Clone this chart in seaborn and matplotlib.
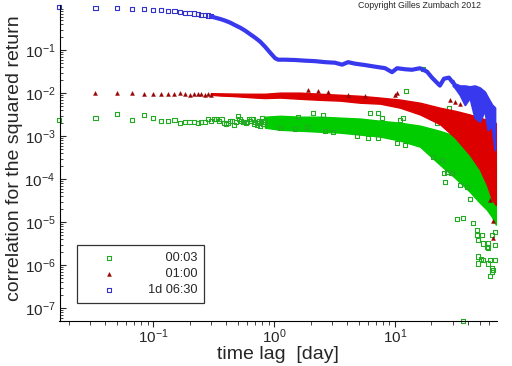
import numpy as np
import matplotlib
matplotlib.use("Agg")
import matplotlib.pyplot as plt
import seaborn as sns
from matplotlib.ticker import LogLocator, NullFormatter

# time lags in days (first points, one step = 1/60 day)
early_lags = [0.0167, 0.0333, 0.0500, 0.0667, 0.0833, 0.1000, 0.1167, 0.1333, 0.1500, 0.1667,
              0.1833, 0.2000, 0.2167, 0.2333, 0.2500, 0.2667, 0.2833, 0.3000, 0.3167, 0.3333,
              0.3500, 0.3667, 0.3833, 0.4000, 0.4167, 0.4333, 0.4500, 0.4667, 0.4833, 0.5000,
              0.5167, 0.5333, 0.5500, 0.5667, 0.5833, 0.6000, 0.6167, 0.6333, 0.6500, 0.6667,
              0.6833, 0.7000, 0.7167, 0.7333, 0.7500, 0.7667, 0.7833, 0.8000, 0.8167, 0.8333]

# 00:03 (green)
green_early = [0.0024, 0.00265, 0.00328, 0.00238, 0.00311, 0.00265, 0.00225, 0.00225, 0.00238, 0.00203,
               0.00214, 0.00214, 0.00214, 0.00203, 0.00214, 0.00214, 0.00251, 0.00225, 0.00251, 0.0025,
               0.00225, 0.0025, 0.00203, 0.00193, 0.00203, 0.00225, 0.00225, 0.00185, 0.0021, 0.0030,
               0.00251, 0.0023, 0.00214, 0.00214, 0.0020, 0.00214, 0.00251, 0.0023, 0.0025, 0.00251,
               0.0019, 0.0021, 0.0018, 0.0020, 0.0023, 0.0017, 0.0021, 0.0026, 0.0019, 0.0022]
green_band_lag = [0.84, 1.12, 1.64, 2.40, 3.51, 5.13, 7.51, 11.0, 16.1, 23.5, 31.3, 41.5, 50.2, 57.5, 63.2, 68.2]
green_hi = [0.00284, 0.00298, 0.00284, 0.00284, 0.00270, 0.00257, 0.00229, 0.00206, 0.00176, 0.00133,
            0.00102, 0.00067, 0.00048, 0.00037, 0.00028, 0.00022]
green_lo = [0.00158, 0.00141, 0.00134, 0.00127, 0.00121, 0.00109, 0.00098, 0.00079, 0.00057, 0.000217,
            0.000108, 0.0000512, 0.0000284, 0.0000195, 0.0000134, 0.0000088]
green_out_lag = [1.12, 1.49, 1.58, 1.87, 2.10, 2.54, 2.64, 3.07, 4.85, 5.98, 6.21, 7.24, 7.24, 7.81,
                 10.4, 11.0, 11.6, 12.1, 12.3, 17.0, 20.6, 22.2, 24.5, 25.4, 25.9, 26.9, 27.9, 29.0,
                 29.6, 32.5, 33.2, 34.4, 36.5, 39.4, 41.7, 44.2, 47.6, 47.6, 48.5, 48.5, 48.5, 51.4,
                 52.4, 53.4, 53.4, 57.5, 58.7, 58.7, 58.7, 61.0, 61.0, 63.4, 63.4, 63.4, 64.6, 67.0,
                 67.0, 67.0, 36.5]
green_out_val = [0.00158, 0.00149, 0.00284, 0.00166, 0.00352, 0.00316, 0.00134, 0.00127, 0.00103, 0.00092,
                 0.00352, 0.00352, 0.00092, 0.00269, 0.000706, 0.00242, 0.00269, 0.000634, 0.0114, 0.0371,
                 0.000333, 0.00206, 0.000284, 0.000142, 0.0000875, 0.000149, 0.0046, 0.000142, 0.000142,
                 0.0000121, 0.0032, 0.0000745, 0.0000127, 0.000067, 0.0000352, 0.0000097, 0.0000067,
                 0.0000051, 0.0000039, 0.0000016, 0.0000011, 0.0000014, 0.0000051, 0.0000032, 0.0000013,
                 0.0000027, 0.0000032, 0.0000026, 0.0000011, 5.7e-7, 0.0000013, 0.0000051, 8.7e-7, 7.1e-7,
                 7.9e-7, 0.000006, 0.000003, 0.0000013, 5.1e-8]

# 01:00 (red)
red_early = [0.0101, 0.0101, 0.0101, 0.0097, 0.0096, 0.0096, 0.0096, 0.0096, 0.0099, 0.0096,
             0.0091, 0.0096, 0.0094, 0.0094, 0.0093, 0.0095, 0.0092]
red_band_lag = [0.30, 0.36, 0.45, 0.58, 0.70, 0.84, 1.12, 1.64, 2.40, 3.51, 5.13, 7.51, 11.0, 16.1,
                23.5, 31.3, 41.5, 50.2, 57.5, 63.2, 68.2]
red_hi = [0.0100, 0.0099, 0.0098, 0.0097, 0.0097, 0.0097, 0.0103, 0.0103, 0.0097, 0.0092, 0.0087,
          0.0079, 0.0071, 0.0060, 0.0046, 0.0039, 0.0032, 0.0027, 0.0024, 0.0025, 0.0020]
red_lo = [0.0092, 0.0088, 0.0086, 0.0082, 0.0079, 0.0077, 0.0079, 0.0074, 0.0070, 0.0067, 0.0060,
          0.0057, 0.0046, 0.0032, 0.0019, 0.00093, 0.00037, 0.00017, 0.000074, 0.000034, 0.000025]
red_out_lag = [1.91, 2.31, 2.79, 4.09, 5.65, 10.0, 10.4, 28.5, 31.3, 34.4, 61.0, 64.6, 64.6]
red_out_val = [0.0121, 0.0114, 0.0108, 0.0092, 0.0087, 0.0092, 0.0103, 0.0071, 0.0063, 0.0057,
               0.000033, 0.0000105, 0.0000043]

# 1d 06:30 (blue)
blue_early = [1.0, 0.96, 0.96, 0.91, 0.89, 0.86, 0.84, 0.83, 0.80, 0.77, 0.74, 0.72, 0.71, 0.69,
              0.67, 0.65, 0.64, 0.61]
blue_line_lag = [0.30, 0.325, 0.358, 0.394, 0.433, 0.476, 0.524, 0.576, 0.633, 0.696, 0.766, 0.842,
                 0.927, 1.02, 1.08, 1.23, 1.49, 1.80, 2.18, 2.64, 3.19, 3.65, 4.09, 4.67, 5.65, 6.84,
                 8.27, 9.45, 10.4, 12.1, 13.8, 16.1, 18.4, 20.2, 21.8, 23.5, 25.4, 27.9, 30.1]
blue_line_val = [0.61, 0.57, 0.53, 0.485, 0.436, 0.38, 0.333, 0.284, 0.235, 0.195, 0.158, 0.12,
                 0.0875, 0.065, 0.060, 0.060, 0.059, 0.057, 0.0555, 0.0526, 0.051, 0.046, 0.0526,
                 0.0485, 0.045, 0.0413, 0.0381, 0.0308, 0.038, 0.036, 0.035, 0.038, 0.0316, 0.023,
                 0.0185, 0.015, 0.0217, 0.023, 0.0175]
blue_band_lag = [30.1, 31.3, 34.4, 37.8, 41.5, 45.6, 50.2, 55.1, 58.5, 63.2, 66.9]
blue_hi = [0.0200, 0.0166, 0.0149, 0.0149, 0.0142, 0.0149, 0.0134, 0.0108, 0.0079, 0.0054, 0.0046]
blue_lo = [0.0150, 0.0134, 0.0092, 0.0054, 0.0079, 0.0027, 0.0022, 0.0041, 0.0014, 0.0018, 0.00048]

# labels padded so they line up on the right like the original
labels = ["     00:03", "     01:00", "1d 06:30"]
green, green_edge = "#00cc00", "#22aa22"
red, red_dark = "#dd0000", "#990000"
blue, blue_edge = "#3838ee", "#3333cc"

sns.set_style("ticks")
plt.rcParams["font.family"] = ["Liberation Sans", "DejaVu Sans"]
plt.rcParams["mathtext.fontset"] = "custom"
plt.rcParams["mathtext.rm"] = "Liberation Sans"
plt.rcParams["mathtext.it"] = "Liberation Sans"

fig = plt.figure(figsize=(5.12, 3.66), dpi=100)
ax = fig.add_axes([59.5 / 512, 45 / 366, 437.5 / 512, 316 / 366])
ax.set_xscale("log")
ax.set_yscale("log")

# green
ax.fill_between(green_band_lag, green_lo, green_hi, color=green, lw=1.0, ec=green)
sns.scatterplot(x=early_lags, y=green_early, marker="s", s=9, color=green_edge, facecolor="none",
                edgecolor=green_edge, linewidth=0.8, ax=ax, label=labels[0], clip_on=False)
sns.scatterplot(x=green_out_lag, y=green_out_val, marker="s", s=9, color=green_edge, facecolor="none",
                edgecolor=green_edge, linewidth=0.8, ax=ax, clip_on=False)

# red
ax.fill_between(red_band_lag, red_lo, red_hi, color=red, lw=1.0, ec=red)
sns.scatterplot(x=early_lags[1:18], y=red_early, marker="^", s=8, color=red_dark,
                edgecolor=red_dark, linewidth=0.3, ax=ax, label=labels[1])
sns.scatterplot(x=red_out_lag, y=red_out_val, marker="^", s=8, color=red_dark,
                edgecolor=red_dark, linewidth=0.3, ax=ax)

# blue
sns.lineplot(x=blue_line_lag, y=blue_line_val, color=blue, lw=3.0, ax=ax, sort=False, estimator=None)
ax.fill_between(blue_band_lag, blue_lo, blue_hi, color=blue, lw=1.5, ec=blue)
sns.scatterplot(x=early_lags[:18], y=blue_early, marker="s", s=9, color=blue_edge, facecolor="none",
                edgecolor=blue_edge, linewidth=0.8, ax=ax, label=labels[2], clip_on=False)

ax.set_xlim(0.0168, 69.7)
ax.set_ylim(5.07e-8, 1.12)
ax.set_yticks([1e-7, 1e-6, 1e-5, 1e-4, 1e-3, 1e-2, 1e-1])
ax.set_xticks([0.1, 1, 10])
ax.yaxis.set_minor_locator(LogLocator(base=10, subs=np.arange(2, 10), numticks=20))
ax.xaxis.set_minor_locator(LogLocator(base=10, subs=np.arange(2, 10), numticks=20))
ax.yaxis.set_minor_formatter(NullFormatter())
ax.xaxis.set_minor_formatter(NullFormatter())
ax.tick_params(axis="y", which="major", direction="in", length=4, width=0.8, labelsize=11, pad=3)
ax.tick_params(axis="y", which="minor", direction="in", length=2.2, width=0.6)
ax.tick_params(axis="x", which="major", direction="out", length=4.2, width=0.8, labelsize=11, pad=0.3)
ax.tick_params(axis="x", which="minor", direction="out", length=2.8, width=0.6)
sns.despine(ax=ax)
for sp in ("left", "bottom"):
    ax.spines[sp].set_color("black")
    ax.spines[sp].set_linewidth(0.8)

ax.set_xlabel("time lag  [day]", fontsize=14)
ax.set_ylabel("correlation for the squared return", fontsize=14)
ax.xaxis.set_label_coords(0.5, -0.079)
ax.yaxis.set_label_coords(-0.083, 0.516)

leg = ax.legend(loc="lower left", bbox_to_anchor=(0.04, 0.057), fontsize=9.2, scatterpoints=1,
                handlelength=3.9, handletextpad=1.1, labelspacing=0.3, borderpad=0.55,
                borderaxespad=0, frameon=True, fancybox=False)
leg.get_frame().set_edgecolor("black")
leg.get_frame().set_linewidth(0.9)

fig.text(358 / 512, 1 - 6 / 366, "Copyright Gilles Zumbach 2012", fontsize=6.3, ha="left", va="center")

fig.savefig("out.png", dpi=100)
